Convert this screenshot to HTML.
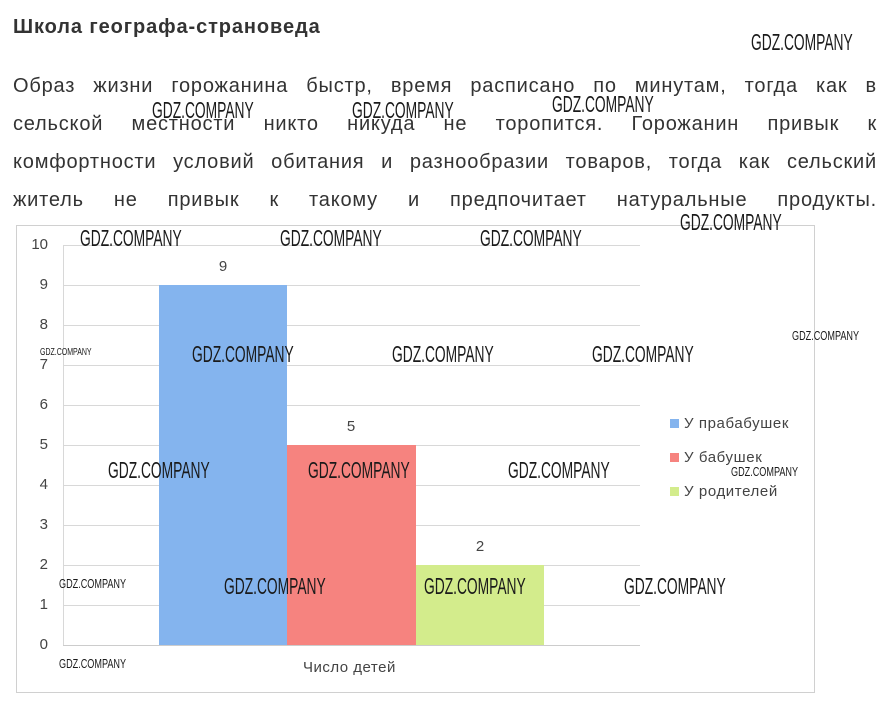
<!DOCTYPE html>
<html><head><meta charset="utf-8"><style>
body{margin:0;width:892px;height:705px;background:#fff;position:relative;overflow:hidden;font-family:"Liberation Sans",sans-serif}
.t{position:absolute;left:13px;top:16px;font-size:20px;letter-spacing:0.9px;font-weight:bold;color:#333}
.l{position:absolute;left:13px;width:864px;font-size:20px;letter-spacing:0.8px;line-height:24px;color:#333;text-align:justify;text-align-last:justify;white-space:nowrap}
.frame{position:absolute;left:16px;top:225px;width:797px;height:466px;border:1px solid #d0d0d0}
.g{position:absolute;left:63px;width:577px;height:1px;background:#d8d8d8}
.yl{position:absolute;left:20px;width:28px;text-align:right;font-size:15px;color:#444}
.bar{position:absolute}
.v{position:absolute;font-size:15px;color:#444;width:40px;text-align:center}
.lg{position:absolute;left:670px;font-size:15px;letter-spacing:0.6px;color:#444}
.lg i{display:inline-block;width:9px;height:9px;margin-right:5px}
.w{position:absolute;color:#1a1a1a;line-height:1;white-space:nowrap;transform-origin:0 0;transform:scaleX(0.6)}
.b{font-size:23px}
.s{font-size:13px;transform:scaleX(0.7)}
</style></head><body>
<div class="t">Школа географа-страноведа</div>
<div class="l" style="top:74px">Образ жизни горожанина быстр, время расписано по минутам, тогда как в</div>
<div class="l" style="top:112px">сельской местности никто никуда не торопится. Горожанин привык к</div>
<div class="l" style="top:150px">комфортности условий обитания и разнообразии товаров, тогда как сельский</div>
<div class="l" style="top:188px">житель не привык к такому и предпочитает натуральные продукты.</div>
<div class="frame"></div>
<div class="g" style="top:245px"></div><div class="g" style="top:285px"></div><div class="g" style="top:325px"></div><div class="g" style="top:365px"></div><div class="g" style="top:405px"></div><div class="g" style="top:445px"></div><div class="g" style="top:485px"></div><div class="g" style="top:525px"></div><div class="g" style="top:565px"></div><div class="g" style="top:605px"></div><div class="g" style="top:645px;background:#ccc"></div>
<div style="position:absolute;left:63px;top:245px;width:1px;height:400px;background:#d8d8d8"></div>
<div class="yl" style="top:236px">10</div><div class="yl" style="top:276px">9</div><div class="yl" style="top:316px">8</div><div class="yl" style="top:356px">7</div><div class="yl" style="top:396px">6</div><div class="yl" style="top:436px">5</div><div class="yl" style="top:476px">4</div><div class="yl" style="top:516px">3</div><div class="yl" style="top:556px">2</div><div class="yl" style="top:596px">1</div><div class="yl" style="top:636px">0</div>
<div class="bar" style="left:159px;top:285px;width:128px;height:360px;background:#84b4ee"></div>
<div class="bar" style="left:287px;top:445px;width:129px;height:200px;background:#f6837f"></div>
<div class="bar" style="left:416px;top:565px;width:128px;height:80px;background:#d3ec8c"></div>
<div class="v" style="left:203px;top:258px">9</div>
<div class="v" style="left:331px;top:418px">5</div>
<div class="v" style="left:460px;top:538px">2</div>
<div style="position:absolute;left:303px;top:659px;font-size:15px;letter-spacing:0.5px;color:#444">Число детей</div>
<div class="lg" style="top:415px"><i style="background:#84b4ee"></i>У прабабушек</div>
<div class="lg" style="top:449px"><i style="background:#f6837f"></i>У бабушек</div>
<div class="lg" style="top:483px"><i style="background:#d3ec8c"></i>У родителей</div>
<div class="w b" style="left:751px;top:31px">GDZ.COMPANY</div>
<div class="w b" style="left:152px;top:99px">GDZ.COMPANY</div>
<div class="w b" style="left:352px;top:99px">GDZ.COMPANY</div>
<div class="w b" style="left:552px;top:93px">GDZ.COMPANY</div>
<div class="w b" style="left:680px;top:211px">GDZ.COMPANY</div>
<div class="w b" style="left:80px;top:227px">GDZ.COMPANY</div>
<div class="w b" style="left:280px;top:227px">GDZ.COMPANY</div>
<div class="w b" style="left:480px;top:227px">GDZ.COMPANY</div>
<div class="w b" style="left:192px;top:343px">GDZ.COMPANY</div>
<div class="w b" style="left:392px;top:343px">GDZ.COMPANY</div>
<div class="w b" style="left:592px;top:343px">GDZ.COMPANY</div>
<div class="w b" style="left:108px;top:459px">GDZ.COMPANY</div>
<div class="w b" style="left:308px;top:459px">GDZ.COMPANY</div>
<div class="w b" style="left:508px;top:459px">GDZ.COMPANY</div>
<div class="w b" style="left:224px;top:575px">GDZ.COMPANY</div>
<div class="w b" style="left:424px;top:575px">GDZ.COMPANY</div>
<div class="w b" style="left:624px;top:575px">GDZ.COMPANY</div>
<div class="w s" style="left:40px;top:348px;font-size:10px">GDZ.COMPANY</div>
<div class="w s" style="left:792px;top:329px">GDZ.COMPANY</div>
<div class="w s" style="left:731px;top:465px">GDZ.COMPANY</div>
<div class="w s" style="left:59px;top:577px">GDZ.COMPANY</div>
<div class="w s" style="left:59px;top:657px">GDZ.COMPANY</div>
</body></html>
